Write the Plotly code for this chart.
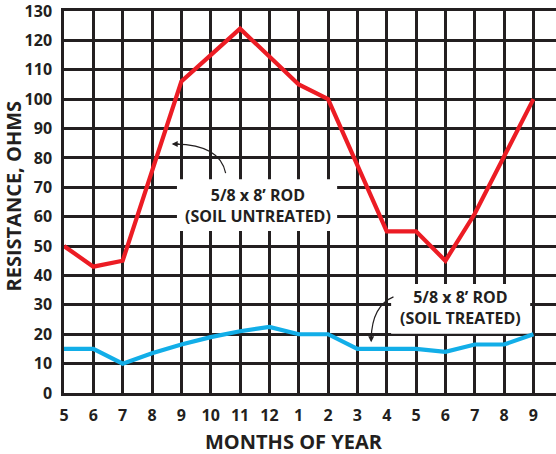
import plotly.graph_objects as go

months = ["5", "6", "7", "8", "9", "10", "11", "12", "1", "2", "3", "4", "5", "6", "7", "8", "9"]
untreated = [50, 43, 45, 76, 106, 115, 124, 114.5, 105, 100, 77.5, 55, 55, 45, 61, 80.5, 100]
treated = [15, 15, 10, 13.5, 16.5, 19, 21, 22.5, 20, 20, 15, 15, 15, 14, 16.5, 16.5, 20]
y_ticks = list(range(0, 131, 10))

INK = "#231f20"
RED = "#ec1c24"
BLUE = "#12aee8"
FONT = "Open Sans"

xs = list(range(len(months)))

fig = go.Figure()
fig.add_trace(go.Scatter(x=xs, y=untreated, mode="lines",
                         line=dict(color=RED, width=4.2), showlegend=False))
fig.add_trace(go.Scatter(x=xs, y=treated, mode="lines",
                         line=dict(color=BLUE, width=4.2), showlegend=False))

# white label boxes (above grid, below traces)
fig.add_shape(type="rect", xref="x", yref="y", x0=3.85, x1=9.31, y0=55.1, y1=72.7,
              fillcolor="white", line=dict(width=0), layer="between")
fig.add_shape(type="rect", xref="x", yref="y", x0=11.15, x1=15.89, y0=20.2, y1=37.1,
              fillcolor="white", line=dict(width=0), layer="between")

# curved arrows
fig.add_shape(type="path", xref="x", yref="y",
              path="M 5.51 74.8 Q 5.32 84.5 3.8 84.7",
              line=dict(color=INK, width=1.2), layer="above")
fig.add_shape(type="path", xref="x", yref="y",
              path="M 11.23 32.7 Q 10.5 29.7 10.47 18.5",
              line=dict(color=INK, width=1.2), layer="above")
fig.add_annotation(x=3.67, y=84.7, xref="x", yref="y", ax=9, ay=0, text="",
                   showarrow=True, arrowhead=2, arrowsize=1, arrowwidth=1.2,
                   arrowcolor=INK, standoff=0)
fig.add_annotation(x=10.47, y=17.3, xref="x", yref="y", ax=0, ay=-9, text="",
                   showarrow=True, arrowhead=2, arrowsize=1, arrowwidth=1.2,
                   arrowcolor=INK, standoff=0)

lab_font = dict(family=FONT, size=16, color=INK, weight="bold")
fig.add_annotation(x=6.6, y=63.7, xref="x", yref="y", showarrow=False,
                   text="5/8 x 8’ ROD<br>(SOIL UNTREATED)", font=lab_font, align="center")
fig.add_annotation(x=13.5, y=29.1, xref="x", yref="y", showarrow=False,
                   text="5/8 x 8’ ROD<br>(SOIL TREATED)", font=lab_font, align="center")

# axis titles
W, H = 556, 454
L, R, T, B = 64, 0, 9, 61
pw, ph = W - L - R, H - T - B
fig.add_annotation(x=(14 - L) / pw, y=(H - B - 195.5) / ph, xref="paper", yref="paper",
                   text="RESISTANCE, OHMS", textangle=-90, showarrow=False,
                   font=dict(family=FONT, size=20, color=INK, weight="bold"),
                   xanchor="center", yanchor="middle")
fig.add_annotation(x=(294 - L) / pw, y=-(442 - (H - B)) / ph, xref="paper", yref="paper",
                   text="MONTHS OF YEAR", showarrow=False,
                   font=dict(family=FONT, size=20, color=INK, weight="bold"),
                   xanchor="center", yanchor="middle")

fig.update_layout(
    width=W, height=H,
    margin=dict(l=L, r=R, t=T, b=B),
    paper_bgcolor="white", plot_bgcolor="white",
    xaxis=dict(range=[0, 16.77], tickvals=xs, ticktext=months,
               showgrid=True, gridcolor=INK, gridwidth=2.5, zeroline=False,
               showline=True, linecolor=INK, linewidth=2.5, mirror=True,
               ticks="", ticklabelstandoff=6, ticklabeloverflow="allow",
               tickfont=dict(family=FONT, size=16, color=INK, weight="bold"),
               fixedrange=True),
    yaxis=dict(range=[0, 130], tickvals=y_ticks,
               showgrid=True, gridcolor=INK, gridwidth=2.5, zeroline=False,
               showline=True, linecolor=INK, linewidth=2.5,
               ticks="", ticklabelstandoff=6, ticklabeloverflow="allow",
               tickfont=dict(family=FONT, size=16, color=INK, weight="bold"),
               fixedrange=True),
)

fig.write_html("out.html", config={"displayModeBar": False},
               post_script="document.body.style.margin='0';document.body.style.padding='0';")
